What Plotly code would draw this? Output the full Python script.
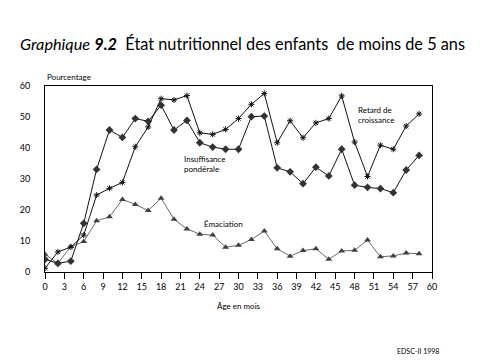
import plotly.graph_objects as go

age = [0, 2, 4, 6, 8, 10, 12, 14, 16, 18, 20, 22, 24, 26, 28, 30, 32, 34, 36, 38,
       40, 42, 44, 46, 48, 50, 52, 54, 56, 58]
retard = [1.2, 6.5, 8.0, 11.9, 24.8, 27.0, 28.9, 40.4, 46.8, 55.9, 55.5, 56.9, 44.9, 44.4,
          46.0, 49.5, 54.1, 57.6, 41.7, 48.8, 43.3, 48.1, 49.5, 56.8, 41.9, 30.8, 40.9,
          39.6, 47.1, 51.0]
insuff = [4.1, 2.8, 3.5, 15.7, 33.1, 45.8, 43.4, 49.5, 48.6, 53.8, 45.8, 48.9, 41.7, 40.3,
          39.6, 39.6, 50.1, 50.3, 33.6, 32.3, 28.5, 33.8, 31.0, 39.6, 28.0, 27.3, 26.9,
          25.6, 32.9, 37.6]
emac = [5.7, 2.8, 8.2, 9.8, 16.5, 17.8, 23.4, 21.8, 19.8, 23.8, 17.0, 13.9, 12.2, 11.9,
        8.0, 8.6, 10.5, 13.2, 7.5, 5.1, 6.9, 7.5, 4.1, 6.8, 7.0, 10.3, 4.9, 5.2, 6.1, 5.9]
x_ticks = list(range(0, 61, 3))
y_ticks = list(range(0, 61, 10))

FONT = "Lato"
fig = go.Figure()
fig.add_trace(go.Scatter(x=age, y=emac, mode="lines+markers",
                         line=dict(color="#444444", width=0.8),
                         marker=dict(symbol="triangle-up", size=6, color="#404040")))
fig.add_trace(go.Scatter(x=age, y=insuff, mode="lines+markers",
                         line=dict(color="#111111", width=1),
                         marker=dict(symbol="diamond", size=6, color="#333333")))
fig.add_trace(go.Scatter(x=age, y=retard, mode="lines+markers",
                         line=dict(color="#111111", width=1),
                         marker=dict(symbol="asterisk-open", size=5,
                                     line=dict(color="#000000", width=1))))

fig.update_layout(
    width=472, height=355, showlegend=False,
    paper_bgcolor="white", plot_bgcolor="white",
    margin=dict(l=31, r=48, t=78, b=91),
    font=dict(family=FONT, size=9, color="black"),
    xaxis=dict(range=[0, 60], tickvals=x_ticks, ticks="outside", ticklen=6,
               tickcolor="black", showline=True, linecolor="black", linewidth=1,
               mirror=True, showgrid=False, zeroline=False),
    yaxis=dict(range=[0, 60], tickvals=y_ticks, ticks="", ticklabelstandoff=12,
               showline=True, linecolor="black", linewidth=1, mirror=True,
               showgrid=False, zeroline=False),
    annotations=[
        dict(text="<i>Graphique</i> <b><i>9.2</i></b>  État nutritionnel des enfants  de moins de 5 ans",
             xref="paper", yref="paper", x=0.5, xanchor="center", xshift=4,
             y=1, yshift=43, yanchor="middle", showarrow=False,
             font=dict(family=FONT, size=16.3)),
        dict(text="Pourcentage", xref="paper", yref="paper", x=0, y=1,
             xanchor="left", yanchor="bottom", yshift=2, showarrow=False,
             font=dict(size=8)),
        dict(text="Âge en mois", xref="paper", yref="paper", x=0.5,
             y=0, yshift=-34, xanchor="center", yanchor="middle", showarrow=False,
             font=dict(size=8)),
        dict(text="EDSC-II 1998", xref="paper", yref="paper", x=1, xshift=9,
             y=0, yshift=-79, xanchor="right", yanchor="middle", showarrow=False,
             font=dict(size=7)),
        dict(text="Retard de<br>croissance", x=48.2, y=50.8, xanchor="left",
             yanchor="middle", align="left", showarrow=False, font=dict(size=8)),
        dict(text="Insuffisance<br>pondérale", x=21.2, y=34.9, xanchor="left",
             yanchor="middle", align="left", showarrow=False, font=dict(size=8)),
        dict(text="Émaciation", x=24.4, y=15.5, xanchor="left",
             yanchor="middle", align="left", showarrow=False, font=dict(size=8)),
    ],
)
fig.write_html("out.html")
